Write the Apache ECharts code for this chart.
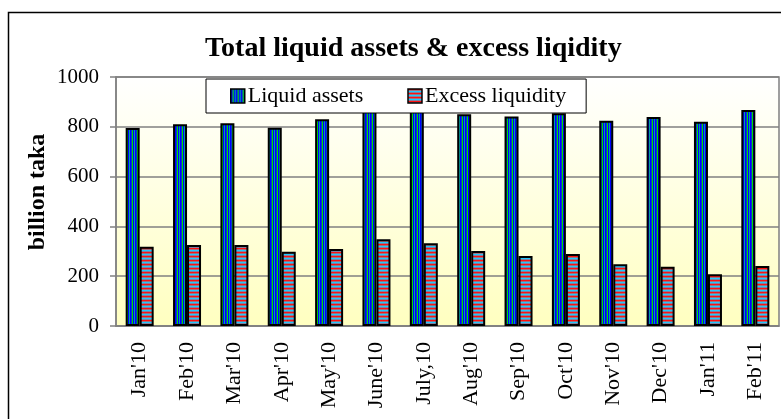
<!DOCTYPE html>
<html>
<head>
    <meta charset="utf-8">
    <title>Total liquid assets & excess liqidity</title>
    <script src="https://cdn.jsdelivr.net/npm/echarts@6/dist/echarts.min.js"></script>
    <style>
        html, body { margin: 0; padding: 0; background: #fff; }
    </style>
</head>
<body>
    <div id="chart" style="width: 781px;height:419px;"></div>
    <script type="text/javascript">
        // data (billion taka)
        var months = ["Jan'10", "Feb'10", "Mar'10", "Apr'10", "May'10", "June'10", "July,10",
                      "Aug'10", "Sep'10", "Oct'10", "Nov'10", "Dec'10", "Jan'11", "Feb'11"];
        var liquidAssets = [795, 810, 814, 796, 830, 874, 871, 850, 841, 854, 824, 839, 820, 867];
        var excessLiquidity = [318, 325, 325, 298, 309, 348, 332, 301, 281, 289, 248, 238, 208, 241];
        var yTicks = [0, 200, 400, 600, 800, 1000];

        var FONT = '"Liberation Serif", "Times New Roman", serif';

        // striped fills, like the old spreadsheet patterns
        function stripes(colors, vertical) {
            var c = document.createElement('canvas');
            c.width = vertical ? colors.length : 4;
            c.height = vertical ? 4 : colors.length;
            var ctx = c.getContext('2d');
            for (var i = 0; i < colors.length; i++) {
                ctx.fillStyle = colors[i];
                if (vertical) ctx.fillRect(i, 0, 1, 4);
                else ctx.fillRect(0, i, 4, 1);
            }
            return c;
        }
        var liquidFill = { image: stripes(['#0000ff', '#0a3cc8', '#00e000', '#0000ff', '#00a0a0'], true), repeat: 'repeat' };
        var excessFill = { image: stripes(['#ff1010', '#a07080', '#20c8ff', '#8080a0'], false), repeat: 'repeat' };

        var chart = echarts.init(document.getElementById('chart'));
        var option = {
            backgroundColor: '#fff',
            animation: false,
            title: {
                text: 'Total liquid assets & excess liqidity',
                left: 200, top: 30,
                textStyle: { fontFamily: FONT, fontSize: 28, fontWeight: 'bold', color: '#000' }
            },
            legend: {
                left: 206, top: 79,
                padding: [6, 20, 6, 24],
                itemGap: 44,
                itemWidth: 14, itemHeight: 14,
                icon: 'rect',
                borderColor: '#000', borderWidth: 1,
                backgroundColor: '#fff',
                textStyle: { fontFamily: FONT, fontSize: 22, color: '#000', padding: [0, 0, 0, -2] },
                data: [
                    { name: 'Liquid assets', itemStyle: { color: liquidFill, borderColor: '#000', borderWidth: 1.5 } },
                    { name: 'Excess liquidity', itemStyle: { color: excessFill, borderColor: '#000', borderWidth: 1.5 } }
                ]
            },
            grid: {
                left: 116, right: 2, top: 77, bottom: 93,
                show: true,
                borderColor: '#808080', borderWidth: 1.5,
                backgroundColor: {
                    type: 'linear', x: 0, y: 0, x2: 0, y2: 1,
                    colorStops: [{ offset: 0, color: '#ffffff' }, { offset: 1, color: '#ffffc0' }]
                }
            },
            xAxis: {
                type: 'category',
                data: months,
                axisLine: { lineStyle: { color: '#808080', width: 1.5 } },
                axisTick: { length: 6, lineStyle: { color: '#808080', width: 1.5 } },
                axisLabel: {
                    interval: 0, rotate: 90, margin: 16,
                    fontFamily: FONT, fontSize: 22, color: '#000'
                }
            },
            yAxis: {
                type: 'value',
                min: yTicks[0], max: yTicks[yTicks.length - 1], interval: 200,
                axisLine: { show: true, lineStyle: { color: '#808080', width: 1.5 } },
                axisTick: { show: true, length: 6, lineStyle: { color: '#808080', width: 1.5 } },
                splitLine: { lineStyle: { color: '#808080', width: 1.5 } },
                axisLabel: {
                    margin: 17, fontFamily: FONT, fontSize: 21, color: '#000',
                    formatter: function (v) { return String(v); }
                }
            },
            graphic: [
                {
                    type: 'rect', silent: true,
                    shape: { x: 8.5, y: 12.5, width: 800, height: 500 },
                    style: { fill: 'none', stroke: '#000', lineWidth: 1.5 }
                },
                {
                    type: 'text', silent: true,
                    x: 38, y: 192, rotation: Math.PI / 2,
                    style: {
                        text: 'billion taka', align: 'center', verticalAlign: 'middle',
                        font: 'bold 24px ' + FONT, fill: '#000'
                    }
                }
            ],
            series: [
                {
                    name: 'Liquid assets', type: 'bar', data: liquidAssets,
                    barWidth: 14, barGap: '0%',
                    itemStyle: { color: liquidFill, borderColor: '#000', borderWidth: 2 }
                },
                {
                    name: 'Excess liquidity', type: 'bar', data: excessLiquidity,
                    barWidth: 14,
                    itemStyle: { color: excessFill, borderColor: '#000', borderWidth: 2 }
                }
            ]
        };
        chart.setOption(option);
    </script>
</body>
</html>
